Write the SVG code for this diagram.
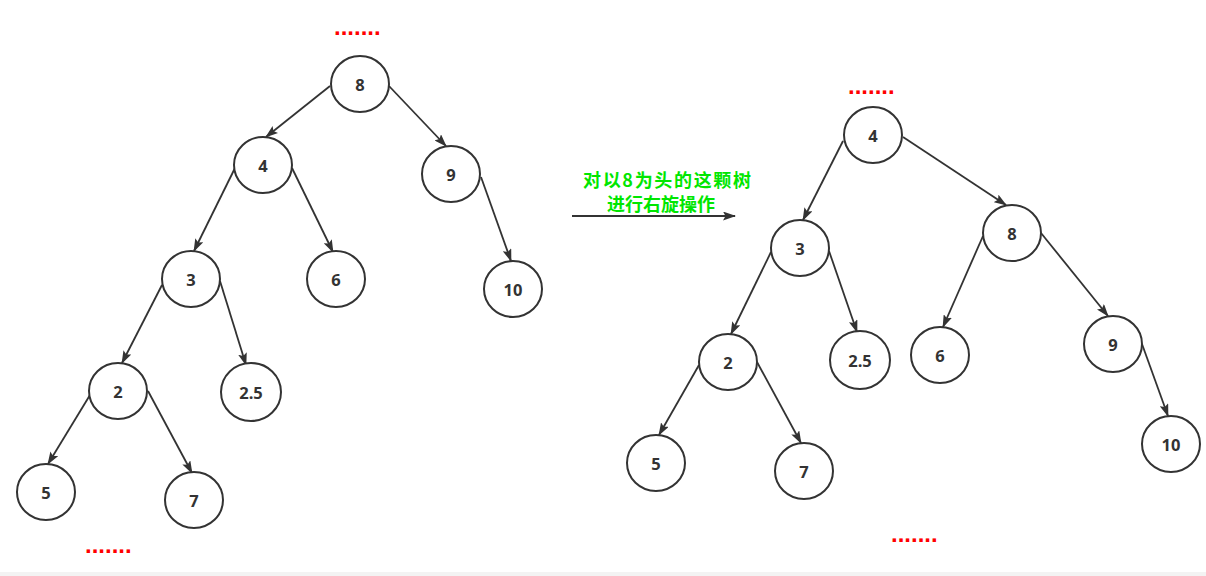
<svg xmlns="http://www.w3.org/2000/svg" width="1206" height="576" viewBox="0 0 1206 576">
<style>
.n ellipse{fill:#fff;stroke:#333;stroke-width:2}
.n text{font-family:"Open Sans","Liberation Sans",sans-serif;font-size:16.5px;font-weight:bold;fill:#333;text-anchor:middle;dominant-baseline:central}
.e line{stroke:#333;stroke-width:1.8;marker-end:url(#ah)}
.dots{font-family:"Liberation Sans",sans-serif;font-size:24px;font-weight:bold;fill:#ff0000}
.lbl{font-family:"Noto Sans CJK SC",sans-serif;font-size:18px;font-weight:bold;fill:#00e600;text-anchor:middle}
</style>
<defs>
<marker id="ah" viewBox="0 0 13 9" refX="12" refY="4.5" markerWidth="13" markerHeight="9" markerUnits="userSpaceOnUse" orient="auto">
<path d="M0,0 L13,4.5 L0,9 L2.5,4.5 z" fill="#333"/>
</marker>
</defs>
<rect x="0" y="0" width="1206" height="576" fill="#fff"/>
<rect x="0" y="572" width="1206" height="4" fill="#f3f3f3"/>

<g id="connectors" class="e">
<line x1="330" y1="86" x2="266" y2="137"/>
<line x1="389" y1="86" x2="446" y2="146"/>
<line x1="235" y1="168" x2="194" y2="251"/>
<line x1="292" y1="168" x2="333" y2="252"/>
<line x1="481" y1="177" x2="511" y2="261"/>
<line x1="162" y1="285" x2="122" y2="363"/>
<line x1="220" y1="281" x2="246" y2="365"/>
<line x1="90" y1="395" x2="48" y2="464"/>
<line x1="148" y1="391" x2="192" y2="473"/>
<line x1="843" y1="141" x2="803" y2="220"/>
<line x1="903" y1="137" x2="1006" y2="205"/>
<line x1="771" y1="252" x2="731" y2="334"/>
<line x1="829" y1="251" x2="857" y2="332"/>
<line x1="983" y1="236" x2="943" y2="327"/>
<line x1="1041" y1="233" x2="1108" y2="316"/>
<line x1="699" y1="365" x2="659" y2="435"/>
<line x1="757" y1="362" x2="801" y2="443"/>
<line x1="1142" y1="344" x2="1168" y2="416"/>
<line x1="572" y1="216" x2="735" y2="216"/>
</g>

<g id="L8" class="n"><ellipse cx="360" cy="84" rx="29" ry="28"/><text x="360" y="84">8</text></g>
<g id="L4" class="n"><ellipse cx="263" cy="165" rx="29" ry="28"/><text x="263" y="165">4</text></g>
<g id="L9" class="n"><ellipse cx="451" cy="174" rx="29" ry="28"/><text x="451" y="174">9</text></g>
<g id="L3" class="n"><ellipse cx="191" cy="279" rx="29" ry="28"/><text x="191" y="279">3</text></g>
<g id="L6" class="n"><ellipse cx="336" cy="279" rx="29" ry="28"/><text x="336" y="279">6</text></g>
<g id="L10" class="n"><ellipse cx="513" cy="289" rx="29" ry="28"/><text x="513" y="289">10</text></g>
<g id="L2" class="n"><ellipse cx="118" cy="391" rx="29" ry="28"/><text x="118" y="391">2</text></g>
<g id="L25" class="n"><ellipse cx="251" cy="392" rx="30" ry="29"/><text x="251" y="392">2.5</text></g>
<g id="L5" class="n"><ellipse cx="46" cy="492" rx="29" ry="28"/><text x="46" y="492">5</text></g>
<g id="L7" class="n"><ellipse cx="194" cy="500" rx="29" ry="28"/><text x="194" y="500">7</text></g>

<g id="R4" class="n"><ellipse cx="873" cy="135" rx="29" ry="28"/><text x="873" y="135">4</text></g>
<g id="R3" class="n"><ellipse cx="800" cy="248" rx="29" ry="28"/><text x="800" y="248">3</text></g>
<g id="R8" class="n"><ellipse cx="1012" cy="233" rx="29" ry="28"/><text x="1012" y="233">8</text></g>
<g id="R2" class="n"><ellipse cx="728" cy="362" rx="29" ry="28"/><text x="728" y="362">2</text></g>
<g id="R25" class="n"><ellipse cx="860" cy="360" rx="30" ry="29"/><text x="860" y="360">2.5</text></g>
<g id="R6" class="n"><ellipse cx="940" cy="355" rx="29" ry="28"/><text x="940" y="355">6</text></g>
<g id="R9" class="n"><ellipse cx="1113" cy="344" rx="29" ry="28"/><text x="1113" y="344">9</text></g>
<g id="R5" class="n"><ellipse cx="656" cy="463" rx="29" ry="28"/><text x="656" y="463">5</text></g>
<g id="R7" class="n"><ellipse cx="804" cy="471" rx="29" ry="28"/><text x="804" y="471">7</text></g>
<g id="R10" class="n"><ellipse cx="1171" cy="444" rx="29" ry="28"/><text x="1171" y="444">10</text></g>

<g id="dots">
<text class="dots" x="334" y="35">.......</text>
<text class="dots" x="85" y="553">.......</text>
<text class="dots" x="848" y="94">.......</text>
<text class="dots" x="891" y="542">.......</text>
</g>
<g id="label">
<text class="lbl" x="667" y="187" textLength="168" lengthAdjust="spacing">对以8为头的这颗树</text>
<text class="lbl" x="661" y="211">进行右旋操作</text>
</g>
</svg>
